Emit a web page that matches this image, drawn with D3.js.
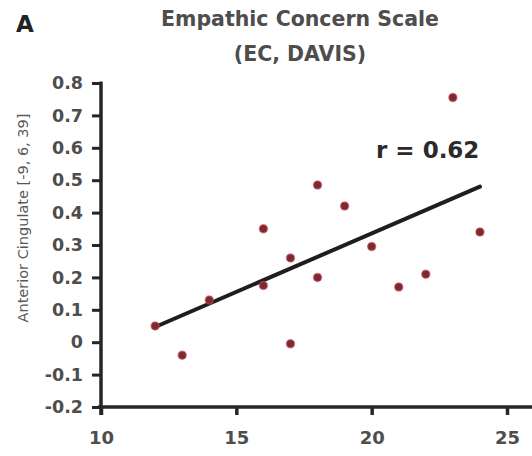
<!DOCTYPE html>
<html>
<head>
<meta charset="utf-8">
<script src="https://cdn.jsdelivr.net/npm/d3@7/dist/d3.min.js"></script>
<style>
  html, body { margin: 0; padding: 0; background: #fff; }
  svg { display: block; font-family: "DejaVu Sans", sans-serif; }
</style>
</head>
<body>
<svg id="chart" width="532" height="456"></svg>
<script>
// Data
const ecScores = [12, 13, 14, 16, 16, 17, 17, 18, 18, 19, 20, 21, 22, 23, 24];
const acValues = [0.05, -0.04, 0.13, 0.35, 0.175, 0.26, -0.005, 0.485, 0.20, 0.42, 0.295, 0.17, 0.21, 0.755, 0.34];
const fitX = [12, 24];
const fitY = [0.047, 0.48];
const xTicks = [10, 15, 20, 25];
const yTicks = [-0.2, -0.1, 0, 0.1, 0.2, 0.3, 0.4, 0.5, 0.6, 0.7, 0.8];
const titleLines = ["Empathic Concern Scale", "(EC, DAVIS)"];
const yLabel = "Anterior Cingulate [-9, 6, 39]";
const panelLabel = "A";
const rLabel = "r = 0.62";

const FONT = "DejaVu Sans, sans-serif";
const svg = d3.select("#chart");
const x = d3.scaleLinear().domain([10, 25]).range([101, 507]);
const y = d3.scaleLinear().domain([-0.2, 0.8]).range([407, 83]);

const axisColor = "#262626";
const textColor = "#4d4d4d";
const fmtY = d => d === 0 ? "0" : d3.format(".1f")(d).replace("\u2212", "-");

// X axis
const xAxis = svg.append("g").attr("transform", `translate(0,${y(-0.2)})`)
  .call(d3.axisBottom(x).tickValues(xTicks).tickSize(8).tickPadding(16)
    .tickFormat(d3.format("d")));
xAxis.select(".domain").remove();
xAxis.append("line").attr("x1", x(10) - 3).attr("x2", 532).attr("y1", 0).attr("y2", 0)
  .attr("stroke", axisColor).attr("stroke-width", 3.5);
xAxis.selectAll(".tick line").attr("stroke", axisColor).attr("stroke-width", 3.5);
xAxis.selectAll(".tick text").attr("fill", textColor).attr("font-size", 18)
  .attr("font-weight", "bold").attr("font-family", FONT);

// Y axis
const yAxis = svg.append("g").attr("transform", `translate(${x(10)},0)`)
  .call(d3.axisLeft(y).tickValues(yTicks).tickSize(9).tickPadding(9)
    .tickFormat(fmtY));
yAxis.select(".domain").remove();
yAxis.append("line").attr("x1", 0).attr("x2", 0).attr("y1", y(0.8) - 1.5).attr("y2", y(-0.2) + 8)
  .attr("stroke", axisColor).attr("stroke-width", 3.5);
yAxis.selectAll(".tick line").attr("stroke", axisColor).attr("stroke-width", 3);
yAxis.selectAll(".tick text").attr("fill", textColor).attr("font-size", 17.5)
  .attr("font-weight", "bold").attr("font-family", FONT);

// Y axis label
svg.append("text")
  .attr("transform", `translate(28,218) rotate(-90)`)
  .attr("text-anchor", "middle")
  .attr("fill", "#595959").attr("font-size", 14.5).attr("font-family", FONT)
  .text(yLabel);

// Title
svg.selectAll("text.title").data(titleLines).join("text")
  .attr("class", "title")
  .attr("x", 300).attr("y", (d, i) => 26 + i * 35)
  .attr("text-anchor", "middle")
  .attr("fill", textColor).attr("font-size", 20.5).attr("font-weight", "bold")
  .attr("font-family", FONT)
  .text(d => d);

// Panel label
svg.append("text").attr("x", 16).attr("y", 32)
  .attr("fill", "#222").attr("font-size", 23).attr("font-weight", "bold")
  .attr("font-family", FONT)
  .text(panelLabel);

// Regression line
svg.append("line")
  .attr("x1", x(fitX[0])).attr("y1", y(fitY[0]))
  .attr("x2", x(fitX[1])).attr("y2", y(fitY[1]))
  .attr("stroke", "#1e1e1e").attr("stroke-width", 4).attr("stroke-linecap", "round");

// Points
svg.selectAll("circle.pt").data(ecScores.map((v, i) => [v, acValues[i]])).join("circle")
  .attr("class", "pt")
  .attr("cx", d => x(d[0])).attr("cy", d => y(d[1]))
  .attr("r", 4)
  .attr("fill", "#7a2a32")
  .attr("stroke", "#c9474d").attr("stroke-opacity", 0.6).attr("stroke-width", 1.5);

// r label
svg.append("text").attr("x", 376).attr("y", 158)
  .attr("fill", "#2a2a2a").attr("font-size", 23).attr("font-weight", "bold")
  .attr("font-family", FONT)
  .text(rLabel);
</script>
</body>
</html>
